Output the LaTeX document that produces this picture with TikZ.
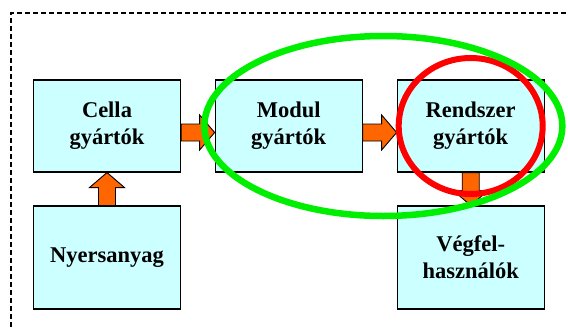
\documentclass[tikz,border=0pt]{standalone}
\usepackage{fontspec}
\setmainfont{Liberation Serif}
\usetikzlibrary{calc}
\definecolor{boxfill}{HTML}{CCFFFF}
\definecolor{arrowfill}{HTML}{FF6600}
\definecolor{ringgreen}{HTML}{00EE00}
\definecolor{ringred}{HTML}{FF0000}
\tikzset{
  stage/.style={draw=black, line width=1.1pt, fill=boxfill, minimum width=147pt,
    minimum height=92pt, inner sep=0pt, align=center,
    font=\fontsize{22.5}{27}\selectfont\bfseries},
  tallstage/.style={stage, minimum height=103pt},
  barrow/.style={draw=black, line width=0.9pt, fill=arrowfill, line join=miter},
  frame/.style={draw=black, line width=1.5pt, dash pattern=on 5pt off 3pt},
}
\begin{document}
\begin{tikzpicture}[x=1pt,y=-1pt]
  \useasboundingbox (0,0) rectangle (568,327);
  % dashed outline
  \draw[frame] (11,327) -- (11,13) -- (568,13);

  % stages
  \node[stage] (cella)  at (107,126)   {Cella\\gyártók};
  \node[stage] (modul)  at (288.7,126) {Modul\\gyártók};
  \node[stage] (rend)   at (470.7,126) {Rendszer\\gyártók};
  \node[tallstage] (nyers) at (107,257.5) {Nyersanyag};
  \node[tallstage] (veg)   at (470.7,257.5) {Végfel-\\használók};

  % horizontal block arrows (tail at east side, tip at west side)
  \foreach \a/\b in {cella/modul, modul/rend} {
    \draw[barrow] let \p1=(\a.east), \p2=(\b.west) in
      (\x1,\y1-6.5pt+8.5pt) -- (\x2-15pt,\y1-6.5pt+8.5pt) -- (\x2-15pt,\y1-6.5pt+17.5pt)
      -- (\x2,\y1-6.5pt) -- (\x2-15pt,\y1-6.5pt-17.5pt) -- (\x2-15pt,\y1-6.5pt-8.5pt)
      -- (\x1,\y1-6.5pt-8.5pt) -- cycle;
  }
  % vertical block arrows: source/anchor/target/anchor/direction
  \foreach \a/\sa/\b/\sb/\d in {nyers/north/cella/south/1, rend/south/veg/north/-1} {
    \draw[barrow] let \p1=(\a.\sa), \p2=(\b.\sb) in
      (\x1-8.5pt,\y1) -- (\x1-8.5pt,\y2-\d*15pt) -- (\x1-17.5pt,\y2-\d*15pt)
      -- (\x1,\y2) -- (\x1+17.5pt,\y2-\d*15pt) -- (\x1+8.5pt,\y2-\d*15pt)
      -- (\x1+8.5pt,\y1) -- cycle;
  }

  % highlight rings
  \draw[ringred, line width=6pt] (rend.center) ellipse [x radius=72, y radius=68];
  \draw[ringgreen, line width=6.5pt] ($(modul.center)!0.52!(rend.center)$) ellipse [x radius=179, y radius=90];
\end{tikzpicture}
\end{document}
